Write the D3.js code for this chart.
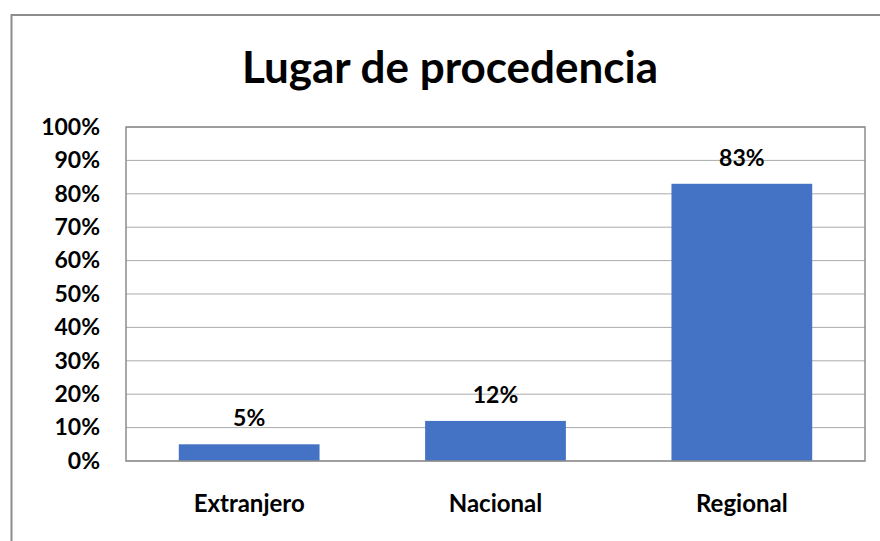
<!DOCTYPE html>
<html><head><meta charset="utf-8">
<script src="https://cdn.jsdelivr.net/npm/d3@7"></script>
<style>body{margin:0;background:#fff}svg{display:block}text{font-family:Lato,"Open Sans",sans-serif;font-weight:bold;fill:#000}</style>
</head><body>
<svg id="c" width="880" height="541"></svg>
<script>
const title = "Lugar de procedencia";
const categories = ["Extranjero","Nacional","Regional"];
const values = [0.05, 0.12, 0.83];
const labels = ["5%","12%","83%"];
const yTicks = [0,0.1,0.2,0.3,0.4,0.5,0.6,0.7,0.8,0.9,1.0];

const svg = d3.select("#c");
svg.append("rect").attr("x",11.5).attr("y",15).attr("width",900).attr("height",600)
  .attr("fill","#fff").attr("stroke","#8c8c8c").attr("stroke-width",2);

const L=126, R=865, T=127, B=461;
const x = d3.scaleBand().domain(categories).range([L,R]).paddingInner(0.4286).paddingOuter(0.2143);
const y = d3.scaleLinear().domain([0,1]).range([B,T]);

svg.append("text").attr("x",450).attr("y",83).attr("text-anchor","middle")
  .style("font-size","44px").text(title);

svg.append("g").selectAll("line").data(yTicks).join("line")
  .attr("x1",L).attr("x2",R).attr("y1",d=>y(d)).attr("y2",d=>y(d))
  .attr("stroke","#ababab").attr("stroke-width",1);

svg.append("g").selectAll("rect").data(values).join("rect")
  .attr("x",(d,i)=>x(categories[i])).attr("width",x.bandwidth())
  .attr("y",d=>y(d)).attr("height",d=>B-y(d)).attr("fill","#4472C4");

svg.append("rect").attr("x",L).attr("y",T).attr("width",R-L).attr("height",B-T)
  .attr("fill","none").attr("stroke","#8c8c8c").attr("stroke-width",1.5);

const yAxis = d3.axisLeft(y).tickValues(yTicks).tickFormat(d3.format(".0%")).tickSize(0).tickPadding(26);
const gy = svg.append("g").attr("transform",`translate(${L},0)`).call(yAxis);
gy.select(".domain").remove();
gy.selectAll("text").style("font-size","23px").style("font-family","Lato, 'Open Sans', sans-serif").attr("fill","#000");

const xAxis = d3.axisBottom(x).tickSize(0).tickPadding(34);
const gx = svg.append("g").attr("transform",`translate(0,${B})`).call(xAxis);
gx.select(".domain").remove();
gx.selectAll("text").style("font-size","24px").style("font-family","Lato, 'Open Sans', sans-serif").attr("fill","#000");

svg.append("g").selectAll("text").data(values).join("text")
  .attr("x",(d,i)=>x(categories[i])+x.bandwidth()/2).attr("y",d=>y(d)-18)
  .attr("text-anchor","middle").style("font-size","23px").text((d,i)=>labels[i]);
</script>
</body></html>
